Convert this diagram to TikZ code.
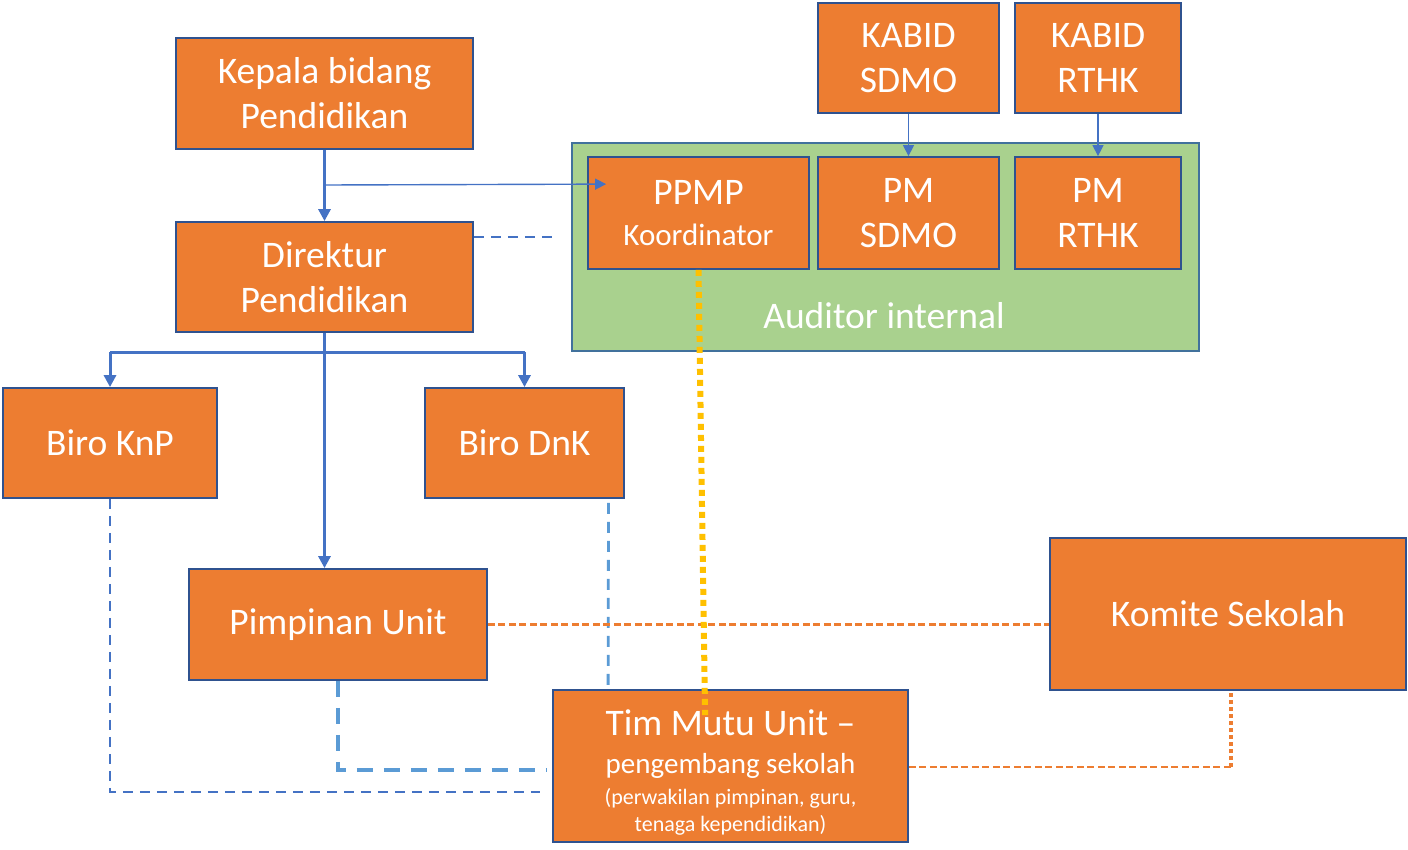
\documentclass[tikz,border=0pt]{standalone}
\usepackage{fontspec}
\setmainfont{Carlito}
\usetikzlibrary{arrows.meta,calc}
\definecolor{boxor}{HTML}{ED7D31}
\definecolor{boxedge}{HTML}{2F528F}
\definecolor{audgreen}{HTML}{A9D18E}
\definecolor{audedge}{HTML}{41719C}
\definecolor{lnblue}{HTML}{4472C4}
\definecolor{lnlight}{HTML}{5B9BD5}
\definecolor{lnyellow}{HTML}{FFC000}
\definecolor{lnorange}{HTML}{ED7D31}
\tikzset{
  obox/.style={draw=boxedge,line width=1.8pt,fill=boxor,text=white,align=center,inner sep=0pt,
    font=\fontsize{37.5}{45}\selectfont},
  thickarr/.style={draw=lnblue,line width=3pt,-{Triangle[length=12pt,width=12pt]}},
  thinarr/.style={draw=lnblue,line width=1.4pt,-{Triangle[length=11pt,width=11pt]}},
  bluedash/.style={draw=lnblue,line width=2.8pt,dash pattern=on 10pt off 7pt},
  lightdash/.style={draw=lnlight,line width=2.8pt,dash pattern=on 11pt off 8pt},
  lightlong/.style={draw=lnlight,line width=4pt,dash pattern=on 16pt off 11pt},
  ordash/.style={draw=lnorange,line width=2.6pt,dash pattern=on 7pt off 3.5pt},
  ordot/.style={draw=lnorange,line width=4pt,dash pattern=on 4pt off 3pt},
  yeldot/.style={draw=lnyellow,line width=6pt,dash pattern=on 6pt off 5pt},
}
\begin{document}
\begin{tikzpicture}[x=1pt,y=-1pt]
\useasboundingbox (0,0) rectangle (1408,849);
% auditor group
\node[draw=audedge,line width=1.8pt,fill=audgreen,minimum width=627pt,minimum height=208pt,inner sep=0pt] (aud) at (885.5,247) {};
\node[text=white,font=\fontsize{37.5}{45}\selectfont] (audlbl) at (884,316) {Auditor internal};
% boxes
\node[obox,minimum width=297pt,minimum height=111pt] (kepala) at (324.5,93.5) {Kepala bidang\\Pendidikan};
\node[obox,minimum width=297pt,minimum height=110pt] (direktur) at (324.5,277) {Direktur\\Pendidikan};
\node[obox,minimum width=214pt,minimum height=110pt] (knp) at (110,443) {Biro KnP};
\node[obox,minimum width=199pt,minimum height=110pt] (dnk) at (524.5,443) {Biro DnK};
\node[obox,minimum width=298pt,minimum height=111pt] (pimp) at (338,624.5) {Pimpinan Unit};
\node[obox,minimum width=355pt,minimum height=152pt,font=\fontsize{37.5}{26}\selectfont] (tim) at (730.5,766)
  {\rule{0pt}{38pt}Tim Mutu Unit –\\[12pt]{\fontsize{29}{26}\selectfont pengembang sekolah}\\[5pt]{\fontsize{22}{26}\selectfont (perwakilan pimpinan, guru,}\\[1pt]{\fontsize{22}{26}\selectfont tenaga kependidikan)}};
\node[obox,minimum width=356pt,minimum height=152pt] (komite) at (1228,614) {Komite Sekolah};
\node[obox,minimum width=221pt,minimum height=112pt] (ppmp) at (698.5,213) {PPMP\\[-4pt]{\fontsize{31}{36}\selectfont Koordinator}};
\node[obox,minimum width=181pt,minimum height=112pt] (pmsdmo) at (908.5,213) {PM\\SDMO};
\node[obox,minimum width=166pt,minimum height=112pt] (pmrthk) at (1098,213) {PM\\RTHK};
\node[obox,minimum width=181pt,minimum height=110pt] (kabsdmo) at (908.5,58) {KABID\\SDMO};
\node[obox,minimum width=166pt,minimum height=110pt] (kabrthk) at (1098,58) {KABID\\RTHK};
% coordinates
\coordinate (branch) at (324.5,185);
\coordinate (ppmpin) at ($(ppmp.north west)+(19,28)$);
\coordinate (dirdashend) at (553,237);
\coordinate (split) at (324.5,352);
\coordinate (knpcorner) at (110,792);
\coordinate (knpend) at (540,792);
\coordinate (pimpcorner) at (338,770);
\coordinate (pimpend) at (547,770);
\coordinate (komcorner) at (1231,767);
% connectors
\draw[thickarr] (kepala.south) -- (direktur.north);
\draw[thinarr] (branch) -- (ppmpin);
\draw[bluedash] (direktur.east |- dirdashend) -- (dirdashend);
\draw[thickarr] (direktur.south) -- (pimp.north -| direktur.south);
\draw[draw=lnblue,line width=3pt] (knp.north |- split) -- (dnk.north |- split);
\draw[thickarr] (knp.north |- split) -- (knp.north);
\draw[thickarr] (dnk.north |- split) -- (dnk.north);
\draw[thinarr] (kabsdmo.south) -- (pmsdmo.north);
\draw[thinarr] (kabrthk.south) -- (pmrthk.north);
\draw[bluedash] (knp.south) -- (knpcorner) -- (knpend);
\draw[lightdash] ($(dnk.south)+(84,4)$) -- ($(tim.north west)+(56,0)$);
\draw[lightlong] (pimp.south) -- (pimpcorner) -- (pimpend);
\draw[ordash] (pimp.east) -- (komite.west |- pimp.east);
\draw[ordash] (tim.east |- komcorner) -- (komcorner);
\draw[ordot] (komcorner) -- (komite.south -| komcorner);
\draw[yeldot] (ppmp.south) -- ($(tim.north west)+(153,26)$);
\end{tikzpicture}
\end{document}
